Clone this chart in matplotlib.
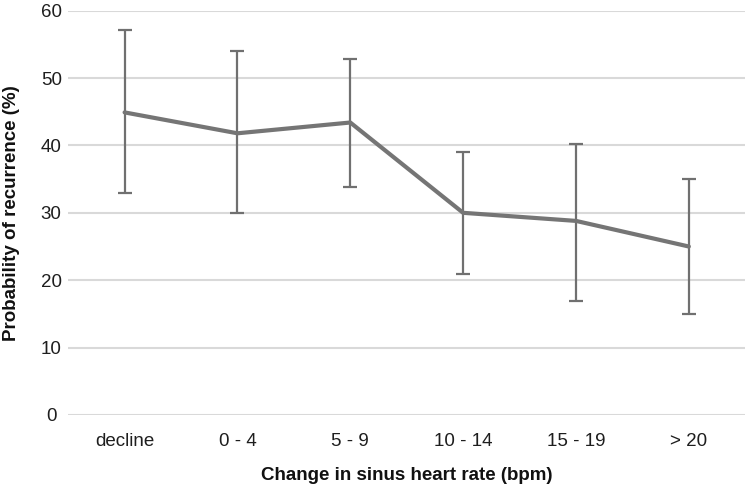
import matplotlib
matplotlib.use("Agg")
import matplotlib.pyplot as plt
import numpy as np

categories = ["decline", "0 - 4", "5 - 9", "10 - 14", "15 - 19", "> 20"]
values = [44.9, 41.8, 43.4, 30.0, 28.8, 25.0]
upper = [57.1, 54.0, 52.8, 39.0, 40.2, 35.0]
lower = [33.0, 30.0, 33.9, 20.9, 16.9, 15.0]
yticks = [0, 10, 20, 30, 40, 50, 60]

plt.rcParams['font.family'] = ['Liberation Sans', 'DejaVu Sans']

fig = plt.figure(figsize=(7.49, 4.88), dpi=100)
ax = fig.add_axes([0.091, 0.1496, 0.904, 0.8286])

x = np.arange(len(categories))
vals = np.array(values)
yerr = np.array([vals - np.array(lower), np.array(upper) - vals])

ax.errorbar(x, vals, yerr=yerr, fmt='none', ecolor='#707070', elinewidth=1.6,
            capsize=5, capthick=1.6, zorder=3)
ax.plot(x, vals, color='#757575', linewidth=3, solid_capstyle='round', zorder=4)

ax.set_xlim(-0.5, len(categories) - 0.5)
ax.set_ylim(0, 60)
ax.set_yticks(yticks)
ax.set_xticks(x)
ax.set_xticklabels(categories)
ax.yaxis.grid(True, color='#d9d9d9', linewidth=1.5)
ax.set_axisbelow(True)
for s in ax.spines.values():
    s.set_visible(False)
ax.tick_params(axis='both', length=0, labelsize=13.5, colors='#1e1e1e')
ax.tick_params(axis='x', pad=13)
ax.tick_params(axis='y', pad=12.2)
for lab in ax.get_yticklabels():
    lab.set_horizontalalignment('center')
ax.set_xlabel("Change in sinus heart rate (bpm)", fontsize=13.5, fontweight='bold', color='#111111')
ax.set_ylabel("Probability of recurrence (%)", fontsize=13.5, fontweight='bold', color='#111111')
ax.yaxis.set_label_coords(-0.071, 0.5)
ax.xaxis.set_label_coords(0.5, -0.128)

fig.savefig("out.png", dpi=100)
